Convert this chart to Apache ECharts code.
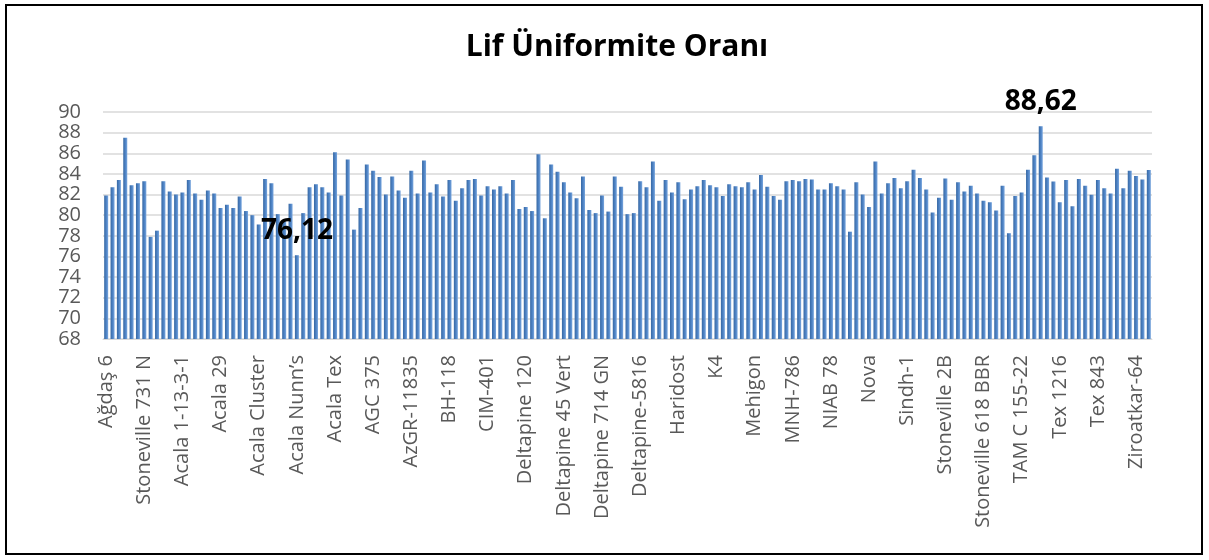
<!DOCTYPE html>
<html>
<head>
<meta charset="utf-8">
<script src="https://cdn.jsdelivr.net/npm/echarts@6/dist/echarts.min.js"></script>
<style>
  html, body { margin: 0; padding: 0; background: #fff; }
  #chart { width: 1209px; height: 560px; }
</style>
</head>
<body>
<div id="chart"></div>
<script>
// names that are printed under the axis (every 6th cultivar)
const labeledNames = [
  "Ağdaş 6", "Stoneville 731 N", "Acala 1-13-3-1", "Acala 29", "Acala Cluster",
  "Acala Nunn’s", "Acala Tex", "AGC 375", "AzGR-11835", "BH-118", "CIM-401",
  "Deltapine 120", "Deltapine 45 Vert", "Deltapine 714 GN", "Deltapine-5816",
  "Haridost", "K4", "Mehigon", "MNH-786", "NIAB 78", "Nova", "Sindh-1",
  "Stoneville 2B", "Stoneville 618 BBR", "TAM C 155-22", "Tex 1216", "Tex 843",
  "Ziroatkar-64"
]
const labelStep = 6

// Lif Üniformite Oranı values, one per cultivar
const uniformity = [
  81.9, 82.7, 83.4, 87.5, 82.9, 83.1, 83.3, 77.9, 78.5, 83.3,
  82.3, 82.0, 82.2, 83.4, 82.1, 81.5, 82.4, 82.1, 80.7, 81.0,
  80.7, 81.8, 80.4, 80.0, 79.1, 83.5, 83.1, 80.1, 79.4, 81.1,
  76.12, 80.2, 82.7, 83.0, 82.7, 82.2, 86.1, 81.9, 85.4, 78.6,
  80.7, 84.9,
  84.3, 83.7, 82.0, 83.75, 82.4, 81.7, 84.3, 82.1, 85.3, 82.2,
  83.0, 81.8, 83.4, 81.4, 82.6, 83.4, 83.5, 81.9, 82.8, 82.5,
  82.8, 82.1, 83.4, 80.6, 80.8, 80.4, 85.9, 79.7, 84.9, 84.2,
  83.2, 82.2, 81.65, 83.75, 80.5, 80.2, 81.9, 80.35, 83.75, 82.75,
  80.1, 80.2,
  83.3, 82.7, 85.2, 81.4, 83.4, 82.2, 83.2, 81.55, 82.5, 82.8,
  83.4, 82.9, 82.7, 81.85, 83.0, 82.8, 82.7, 83.2, 82.5, 83.9,
  82.75, 81.85, 81.5, 83.3, 83.4, 83.3, 83.5, 83.45, 82.5, 82.5,
  83.1, 82.8, 82.5, 78.4, 83.2, 82.0, 80.8, 85.2, 82.1, 83.1,
  83.6, 82.6, 83.3,
  84.4, 83.6, 82.5, 80.26, 81.7, 83.56, 81.5, 83.2, 82.3, 82.85,
  82.1, 81.4, 81.26, 80.45, 82.85, 78.25, 81.85, 82.2, 84.4, 85.8,
  88.62, 83.66, 83.27, 81.26, 83.4, 80.87, 83.5, 82.85, 81.97, 83.4,
  82.6, 82.1, 84.5, 82.6, 84.3, 83.8, 83.46, 84.37
]

const yMin = 68
const yMax = 90
const yStep = 2

const categories = uniformity.map((v, i) => (i % labelStep === 0 ? labeledNames[i / labelStep] : ""))

// only the lowest and highest bars get a value label
const minVal = Math.min(...uniformity)
const maxVal = Math.max(...uniformity)
const fmt = (v) => v.toFixed(2).replace(".", ",")

const barData = uniformity.map((v) => {
  if (v === minVal || v === maxVal) {
    return {
      value: v,
      label: {
        show: true,
        position: "top",
        distance: 10,
        formatter: () => fmt(v),
        fontFamily: "Open Sans",
        fontWeight: "bold",
        fontSize: 28,
        color: "#000"
      }
    }
  }
  return v
})

const chart = echarts.init(document.getElementById("chart"))
chart.setOption({
  animation: false,
  backgroundColor: "#fff",
  textStyle: { fontFamily: "Open Sans" },
  title: {
    text: "Lif Üniformite Oranı",
    left: 612,
    textAlign: "center",
    top: 27,
    textStyle: { fontFamily: "Open Sans", fontWeight: "bold", fontSize: 30, color: "#000" }
  },
  graphic: [
    {
      type: "rect",
      shape: { x: 6, y: 5, width: 1196, height: 549 },
      style: { fill: "none", stroke: "#000", lineWidth: 2 },
      silent: true
    }
  ],
  grid: { left: 103, right: 57, top: 112, bottom: 221 },
  xAxis: {
    type: "category",
    data: categories,
    axisLine: { show: true, lineStyle: { color: "#d9d9d9", width: 1 } },
    axisTick: { show: false },
    axisLabel: {
      interval: labelStep - 1,
      rotate: 90,
      margin: 16,
      fontSize: 20,
      color: "#595959",
      fontFamily: "Open Sans"
    }
  },
  yAxis: {
    type: "value",
    min: yMin,
    max: yMax,
    interval: yStep,
    axisLine: { show: false },
    axisTick: { show: false },
    axisLabel: { fontSize: 20, color: "#595959", margin: 22, fontFamily: "Open Sans" },
    splitLine: { lineStyle: { color: "#d9d9d9", width: 1.5 } }
  },
  series: [
    {
      type: "bar",
      data: barData,
      barWidth: 4,
      itemStyle: {
        color: new echarts.graphic.LinearGradient(0, 0, 1, 0, [
          { offset: 0, color: "#3768a3" },
          { offset: 0.55, color: "#4f84c6" },
          { offset: 1, color: "#79a6dd" }
        ])
      }
    }
  ]
})
</script>
</body>
</html>
